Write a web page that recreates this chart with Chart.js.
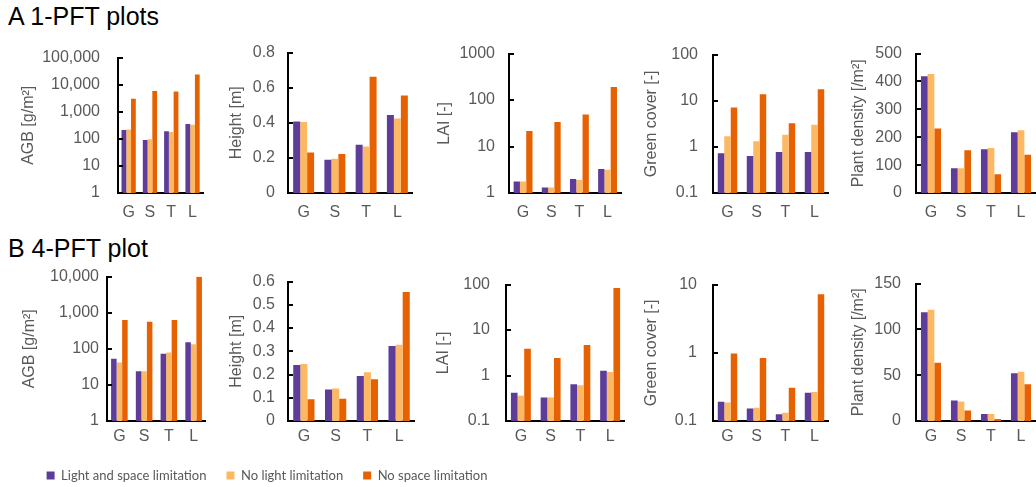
<!DOCTYPE html>
<html>
<head>
<meta charset="utf-8">
<script src="https://cdn.jsdelivr.net/npm/chart.js@4.4.1/dist/chart.umd.min.js"></script>
<style>
  body { margin: 0; background: #fff; }
  #wrap { position: relative; width: 1036px; height: 487px; overflow: hidden; background: #fff; }
  canvas { position: absolute; }
  .rowTitle { position: absolute; left: 8px; font: 25px/25px "Liberation Sans", Arial, sans-serif; color: #000; white-space: nowrap; }
</style>
</head>
<body>
<div id="wrap">
  <div class="rowTitle" style="top:4px">A 1-PFT plots</div>
  <div class="rowTitle" style="top:236px">B 4-PFT plot</div>
</div>
<script>
// categories and series
var categories = ['G', 'S', 'T', 'L'];
var seriesNames = ['Light and space limitation', 'No light limitation', 'No space limitation'];
var seriesColors = ['#5e3c99', '#fdb863', '#e66101'];

// A 1-PFT plots
var agbA_lim = [213, 90, 192, 351];
var agbA_noLight = [220, 97, 178, 333];
var agbA_noSpace = [3000, 5900, 5600, 23700];
var agbA_ticks = ['1', '10', '100', '1,000', '10,000', '100,000'];

var heightA_lim = [0.407, 0.189, 0.275, 0.444];
var heightA_noLight = [0.404, 0.195, 0.265, 0.424];
var heightA_noSpace = [0.231, 0.222, 0.662, 0.556];
var heightA_ticks = ['0', '0.2', '0.4', '0.6', '0.8'];

var laiA_lim = [1.76, 1.31, 2.0, 3.3];
var laiA_noLight = [1.76, 1.31, 1.9, 3.15];
var laiA_noSpace = [21.7, 33.6, 49, 192];
var laiA_ticks = ['1', '10', '100', '1000'];

var coverA_lim = [0.73, 0.63, 0.77, 0.77];
var coverA_noLight = [1.69, 1.33, 1.83, 3.01];
var coverA_noSpace = [7.15, 13.8, 3.26, 17.8];
var coverA_ticks = ['0.1', '1', '10', '100'];

var densityA_lim = [419, 89, 157, 218];
var densityA_noLight = [427, 89, 161, 225];
var densityA_noSpace = [231, 153, 67, 137];
var densityA_ticks = ['0', '100', '200', '300', '400', '500'];

// B 4-PFT plot
var agbB_lim = [53, 24, 73, 152];
var agbB_noLight = [42, 24, 79, 134];
var agbB_noSpace = [628, 565, 628, 9900];
var agbB_ticks = ['1', '10', '100', '1,000', '10,000'];

var heightB_lim = [0.241, 0.136, 0.194, 0.323];
var heightB_noLight = [0.245, 0.14, 0.21, 0.328];
var heightB_noSpace = [0.094, 0.096, 0.18, 0.555];
var heightB_ticks = ['0', '0.1', '0.2', '0.3', '0.4', '0.5', '0.6'];

var laiB_lim = [0.42, 0.33, 0.64, 1.28];
var laiB_noLight = [0.36, 0.33, 0.61, 1.19];
var laiB_noSpace = [3.89, 2.42, 4.7, 84];
var laiB_ticks = ['0.1', '1', '10', '100'];

var coverB_lim = [0.192, 0.152, 0.126, 0.259];
var coverB_noLight = [0.187, 0.157, 0.132, 0.267];
var coverB_noSpace = [0.98, 0.836, 0.306, 7.2];
var coverB_ticks = ['0.1', '1', '10'];

var densityB_lim = [118.7, 22.4, 7.6, 52];
var densityB_noLight = [121.4, 21.3, 7.6, 53.7];
var densityB_noSpace = [63.6, 11.4, 2.1, 40.2];
var densityB_ticks = ['0', '50', '100', '150'];

// layout of the two rows and ten panels
var rows = [
    { plotTop: 46, plotBottom: 193, labelPad: 10 },
    { plotTop: 275, plotBottom: 421, labelPad: 6 }
];

var panels = [
    { row: 0, title: 'AGB [g/m²]', log: true, ticks: agbA_ticks, values: [agbA_lim, agbA_noLight, agbA_noSpace], left: 19, axisX: 118, right: 207, tickPad: 18 },
    { row: 0, title: 'Height [m]', log: false, ticks: heightA_ticks, values: [heightA_lim, heightA_noLight, heightA_noSpace], left: 227, axisX: 288, right: 413, tickPad: 13 },
    { row: 0, title: 'LAI [-]', log: true, ticks: laiA_ticks, values: [laiA_lim, laiA_noLight, laiA_noSpace], left: 435, axisX: 509, right: 622, tickPad: 14 },
    { row: 0, title: 'Green cover [-]', log: true, ticks: coverA_ticks, values: [coverA_lim, coverA_noLight, coverA_noSpace], left: 642, axisX: 713, right: 829, tickPad: 15 },
    { row: 0, title: 'Plant density [/m²]', log: false, ticks: densityA_ticks, values: [densityA_lim, densityA_noLight, densityA_noSpace], left: 849, axisX: 916, right: 1036, tickPad: 14 },
    { row: 1, title: 'AGB [g/m²]', log: true, ticks: agbB_ticks, values: [agbB_lim, agbB_noLight, agbB_noSpace], left: 20, axisX: 107, right: 206, tickPad: 8 },
    { row: 1, title: 'Height [m]', log: false, ticks: heightB_ticks, values: [heightB_lim, heightB_noLight, heightB_noSpace], left: 227, axisX: 288, right: 415, tickPad: 13 },
    { row: 1, title: 'LAI [-]', log: true, ticks: laiB_ticks, values: [laiB_lim, laiB_noLight, laiB_noSpace], left: 434, axisX: 506, right: 625, tickPad: 16 },
    { row: 1, title: 'Green cover [-]', log: true, ticks: coverB_ticks, values: [coverB_lim, coverB_noLight, coverB_noSpace], left: 642, axisX: 713, right: 829, tickPad: 16 },
    { row: 1, title: 'Plant density [/m²]', log: false, ticks: densityB_ticks, values: [densityB_lim, densityB_noLight, densityB_noSpace], left: 849, axisX: 916, right: 1036, tickPad: 15 }
];

var axisFont = { family: '"Liberation Sans", Arial, sans-serif', size: 16 };
var grey = '#595959';
var wrap = document.getElementById('wrap');

// small ticks on the inner side of the y axis
var innerTicks = {
    id: 'innerTicks',
    afterDraw: function(chart) {
        var y = chart.scales.y;
        var ctx = chart.ctx;
        var left = chart.chartArea.left;
        ctx.save();
        ctx.strokeStyle = '#000';
        ctx.lineWidth = 2;
        y.ticks.forEach(function(t) {
            var py = Math.round(y.getPixelForValue(t.value));
            ctx.beginPath();
            ctx.moveTo(left, py);
            ctx.lineTo(left + 5, py);
            ctx.stroke();
        });
        ctx.restore();
    }
};

panels.forEach(function(p) {
    var row = rows[p.row];
    var padTop = 16, xAxisH = 34;
    var cv = document.createElement('canvas');
    cv.width = p.right - p.left;
    cv.height = row.plotBottom - row.plotTop + padTop + xAxisH;
    cv.style.left = p.left + 'px';
    cv.style.top = (row.plotTop - padTop) + 'px';
    wrap.appendChild(cv);

    var tickValues = p.ticks.map(function(t) { return parseFloat(t.replace(/,/g, '')); });

    new Chart(cv.getContext('2d'), {
        type: 'bar',
        data: {
            labels: categories,
            datasets: seriesNames.map(function(name, k) {
                return {
                    label: name,
                    data: p.values[k],
                    backgroundColor: seriesColors[k],
                    categoryPercentage: 0.67,
                    barPercentage: 1
                };
            })
        },
        options: {
            responsive: false,
            animation: false,
            layout: { autoPadding: false, padding: { top: padTop, left: 0, right: 0, bottom: 0 } },
            plugins: { legend: { display: false }, tooltip: { enabled: false } },
            scales: {
                x: {
                    grid: { display: false, drawTicks: false },
                    border: { display: true, color: '#000', width: 2 },
                    ticks: { font: axisFont, color: grey, padding: row.labelPad },
                    afterFit: function(a) { a.height = xAxisH; }
                },
                y: {
                    type: p.log ? 'logarithmic' : 'linear',
                    min: tickValues[0],
                    max: tickValues[tickValues.length - 1],
                    grid: { display: false, drawTicks: false },
                    border: { display: true, color: '#000', width: 2 },
                    ticks: {
                        font: axisFont,
                        color: grey,
                        padding: p.tickPad,
                        autoSkip: false,
                        callback: function(v, idx) { return p.ticks[idx]; }
                    },
                    afterBuildTicks: function(a) {
                        a.ticks = tickValues.map(function(v) { return { value: v }; });
                    },
                    title: { display: true, text: p.title, font: axisFont, color: grey, padding: 0 },
                    afterFit: function(a) { a.width = p.axisX - p.left; }
                }
            }
        },
        plugins: [innerTicks]
    });
});

// shared legend at the bottom
var legCv = document.createElement('canvas');
legCv.width = 640;
legCv.height = 100;
legCv.style.left = '-53px';
legCv.style.top = '449px';
wrap.appendChild(legCv);

new Chart(legCv.getContext('2d'), {
    type: 'bar',
    data: {
        labels: ['x'],
        datasets: seriesNames.map(function(name, k) {
            return { label: name, data: [0], backgroundColor: seriesColors[k] };
        })
    },
    options: {
        responsive: false,
        animation: false,
        layout: { padding: 0 },
        scales: { x: { display: false }, y: { display: false } },
        plugins: {
            tooltip: { enabled: false },
            legend: {
                display: true,
                position: 'top',
                labels: {
                    boxWidth: 8,
                    boxHeight: 8,
                    padding: 20,
                    color: grey,
                    font: { family: 'Lato', size: 13 }
                }
            }
        }
    }
});
</script>
</body>
</html>
